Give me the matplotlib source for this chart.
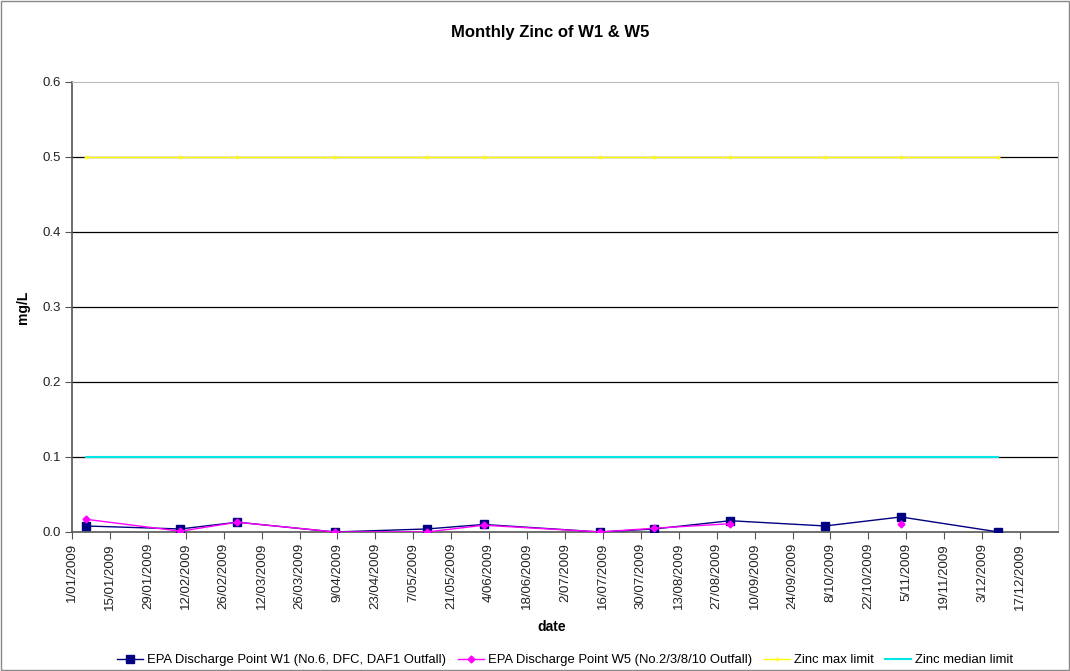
import datetime as dt
import matplotlib
matplotlib.use('Agg')
import matplotlib.pyplot as plt
import numpy as np

plt.rcParams['font.family'] = ['Liberation Sans', 'DejaVu Sans']

# sample dates (2009) and readings in mg/L
dates = ['2009-01-06', '2009-02-10', '2009-03-03', '2009-04-08', '2009-05-12', '2009-06-02',
         '2009-07-15', '2009-08-04', '2009-09-01', '2009-10-06', '2009-11-03', '2009-12-09']
w1 = [0.008, 0.004, 0.013, 0.0, 0.004, 0.010, 0.0, 0.004, 0.015, 0.008, 0.020, 0.0]
w5 = [0.017, 0.001, 0.013, 0.0, 0.0, 0.009, 0.0, 0.005, 0.011, np.nan, 0.010, np.nan]
max_limit = [0.5] * 12
median_limit = [0.1] * 12

labels = ['EPA Discharge Point W1 (No.6, DFC, DAF1 Outfall)',
          'EPA Discharge Point W5 (No.2/3/8/10 Outfall)',
          'Zinc max limit', 'Zinc median limit']

x = [dt.datetime.strptime(d, '%Y-%m-%d') for d in dates]
start = dt.datetime(2009, 1, 1)
ticks = [start + dt.timedelta(days=14 * i) for i in range(26)]

fig = plt.figure(figsize=(10.7, 6.71), dpi=100)
ax = fig.add_axes([0.0673, 0.2072, 0.9215, 0.6706])

for y in [0.1, 0.2, 0.3, 0.4, 0.5]:
    ax.axhline(y, color='black', lw=0.9, zorder=1)

ax.plot(x, w1, color='#000080', lw=1, marker='s', ms=6, label=labels[0], zorder=4)
ax.plot(x, w5, color='#ff00ff', lw=1, marker='D', ms=3.5, label=labels[1], zorder=5)
ax.plot(x, max_limit, color='#ffff00', lw=1, marker='+', ms=3, mew=1, label=labels[2], zorder=3)
ax.plot(x, median_limit, color='#00e5e5', lw=1.5, label=labels[3], zorder=3)

ax.set_xlim(start, dt.datetime(2009, 12, 31))
ax.set_ylim(0, 0.6)
ax.set_yticks(np.arange(0, 0.61, 0.1))
ax.set_yticklabels([f'{v:.1f}' for v in np.arange(0, 0.61, 0.1)], fontsize=9.5, color='#222222')
ax.set_xticks(ticks)
ax.set_xticklabels([f'{d.day}/{d.month:02d}/{d.year}' for d in ticks], rotation=90, fontsize=9.5, color='#222222')
ax.tick_params(direction='out', length=5, color='#555555', pad=3)

for s in ['top', 'right']:
    ax.spines[s].set_color('#bbbbbb')
for s in ['left', 'bottom']:
    ax.spines[s].set_color('#555555')
    ax.spines[s].set_linewidth(1.2)

fig.text(550 / 1070, 1 - 33 / 671, 'Monthly Zinc of W1 & W5', fontsize=12, fontweight='bold',
         ha='center', va='center')
ax.set_ylabel('mg/L', fontsize=10, fontweight='bold')
ax.yaxis.set_label_coords(-0.043, 0.5)
ax.set_xlabel('date', fontsize=10, fontweight='bold')
ax.xaxis.set_label_coords((552 - 72) / 986, -(620 - 532) / 450)

fig.legend(loc='center', bbox_to_anchor=(565 / 1070, 1 - 660 / 671), ncol=4, frameon=False,
           fontsize=9.4, handlelength=2, handletextpad=0.3, columnspacing=0.9)

fig.patches.append(plt.Rectangle((0.001, 0.001), 0.998, 0.998, transform=fig.transFigure,
                                 fill=False, edgecolor='#888888', lw=1))

fig.savefig('out.png', dpi=100)
